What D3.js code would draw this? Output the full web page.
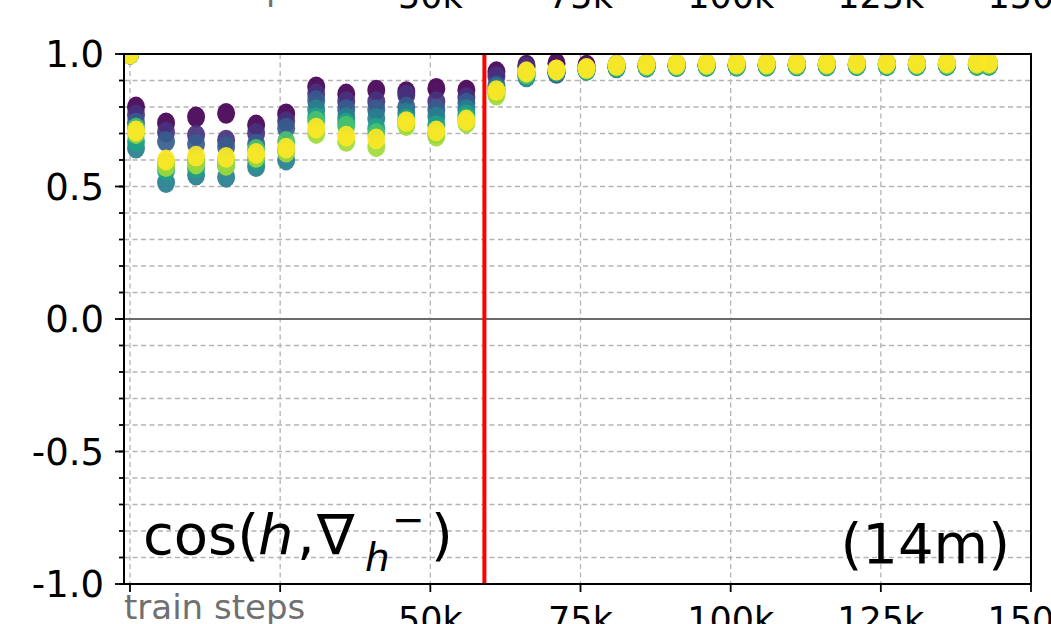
<!DOCTYPE html>
<html>
<head>
<meta charset="utf-8">
<script src="https://cdn.jsdelivr.net/npm/d3@7"></script>
<style>
  html, body { margin: 0; padding: 0; background: #fff; }
  svg { display: block; }
  text { font-family: "DejaVu Sans", sans-serif; }
</style>
</head>
<body>
<svg id="chart" width="1051" height="624"></svg>
<script>
// training steps (thousands) at which the cosine was logged
const steps = [0, 1, 6, 11, 16, 21, 26, 31, 36, 41, 46, 51, 56, 61, 66, 71, 76, 81, 86, 91, 96, 101, 106, 111, 116, 121, 126, 131, 136, 141, 143];

// one series per layer, coloured along viridis (first layer dark, last layer yellow)
const layer0 = [1.0, 0.80, 0.74, 0.763, 0.776, 0.732, 0.774, 0.876, 0.849, 0.864, 0.858, 0.87, 0.864, 0.933, 0.958, 0.965, 0.958, 0.958, 0.96, 0.96, 0.961, 0.962, 0.962, 0.963, 0.963, 0.963, 0.964, 0.964, 0.964, 0.965, 0.965];
const layer1 = [1.0, 0.77, 0.705, 0.694, 0.675, 0.70, 0.745, 0.849, 0.82, 0.82, 0.845, 0.82, 0.835, 0.915, 0.95, 0.927, 0.945, 0.952, 0.955, 0.956, 0.957, 0.958, 0.958, 0.959, 0.959, 0.96, 0.96, 0.96, 0.961, 0.961, 0.962];
const layer2 = [1.0, 0.74, 0.67, 0.66, 0.65, 0.66, 0.72, 0.824, 0.79, 0.79, 0.80, 0.79, 0.815, 0.88, 0.93, 0.93, 0.94, 0.95, 0.953, 0.954, 0.955, 0.955, 0.956, 0.956, 0.957, 0.957, 0.957, 0.958, 0.958, 0.958, 0.959];
const layer3 = [1.0, 0.645, 0.515, 0.543, 0.535, 0.575, 0.60, 0.79, 0.76, 0.757, 0.777, 0.763, 0.79, 0.87, 0.914, 0.93, 0.938, 0.948, 0.95, 0.952, 0.953, 0.954, 0.954, 0.955, 0.955, 0.956, 0.956, 0.956, 0.957, 0.957, 0.957];
const layer4 = [1.0, 0.67, 0.56, 0.57, 0.58, 0.60, 0.64, 0.76, 0.74, 0.72, 0.755, 0.73, 0.77, 0.86, 0.92, 0.935, 0.94, 0.95, 0.952, 0.953, 0.954, 0.955, 0.955, 0.956, 0.956, 0.957, 0.957, 0.957, 0.958, 0.958, 0.958];
const layer5 = [1.0, 0.72, 0.59, 0.60, 0.60, 0.64, 0.67, 0.747, 0.728, 0.70, 0.74, 0.70, 0.755, 0.855, 0.925, 0.938, 0.942, 0.953, 0.955, 0.956, 0.957, 0.958, 0.958, 0.959, 0.959, 0.96, 0.96, 0.96, 0.961, 0.961, 0.961];
const layer6 = [1.0, 0.70, 0.575, 0.585, 0.58, 0.61, 0.63, 0.70, 0.67, 0.65, 0.73, 0.69, 0.74, 0.845, 0.93, 0.94, 0.945, 0.956, 0.958, 0.959, 0.96, 0.961, 0.961, 0.962, 0.962, 0.963, 0.963, 0.963, 0.964, 0.964, 0.964];
const layer7 = [1.0, 0.71, 0.60, 0.615, 0.61, 0.625, 0.645, 0.72, 0.69, 0.68, 0.745, 0.71, 0.75, 0.862, 0.933, 0.94, 0.946, 0.958, 0.961, 0.962, 0.963, 0.964, 0.964, 0.965, 0.965, 0.966, 0.966, 0.966, 0.967, 0.967, 0.967];
const layers = [layer0, layer1, layer2, layer3, layer4, layer5, layer6, layer7];

// step (thousands) where the schedule switches
const switchStep = 59;

const xTicks = [0, 25, 50, 75, 100, 125, 150];
const xTickLabels = ["", "", "50k", "75k", "100k", "125k", "150k"];
const yMajor = [-1, -0.5, 0, 0.5, 1];
const yMajorLabels = ["-1.0", "-0.5", "0.0", "0.5", "1.0"];
const yMinor = d3.range(-10, 11).map(d => d / 10);

const svg = d3.select("#chart");
const L = 124, R = 1031, T = 54, B = 584;

const x = d3.scaleLinear().domain([-1, 150]).range([L, R]);
const y = d3.scaleLinear().domain([-1, 1]).range([B, T]);
const color = i => d3.interpolateViridis(i / (layers.length - 1));

svg.append("defs").append("clipPath").attr("id", "plot-clip")
  .append("rect").attr("x", L).attr("y", T).attr("width", R - L).attr("height", B - T);

// dashed grid: every 0.1 on y, every 25k on x
const grid = svg.append("g").attr("stroke", "#b4b4b4").attr("stroke-width", 1.3)
  .attr("stroke-dasharray", "5,3.5");
grid.selectAll("line.h").data(yMinor.filter(d => d !== 0 && d !== 1 && d !== -1)).join("line")
  .attr("x1", L).attr("x2", R).attr("y1", d => y(d)).attr("y2", d => y(d));
grid.selectAll("line.v").data(xTicks.slice(0, -1)).join("line")
  .attr("y1", T).attr("y2", B).attr("x1", d => x(d)).attr("x2", d => x(d));

// zero reference
svg.append("line").attr("x1", L).attr("x2", R).attr("y1", y(0)).attr("y2", y(0))
  .attr("stroke", "#6a6a6a").attr("stroke-width", 2);

// scatter, one layer after another
const dots = svg.append("g").attr("clip-path", "url(#plot-clip)");
layers.forEach((vals, i) => {
  dots.append("g").selectAll("ellipse").data(vals).join("ellipse")
    .attr("cx", (d, j) => x(steps[j]))
    .attr("cy", d => y(d))
    .attr("rx", 9)
    .attr("ry", 10.4)
    .attr("fill", color(i))
    .attr("fill-opacity", 0.92);
});

// schedule switch marker
svg.append("line").attr("x1", x(switchStep)).attr("x2", x(switchStep))
  .attr("y1", T).attr("y2", B).attr("stroke", "#ff0000").attr("stroke-width", 4);

// frame
svg.append("rect").attr("x", L).attr("y", T).attr("width", R - L).attr("height", B - T)
  .attr("fill", "none").attr("stroke", "#000").attr("stroke-width", 2);

// y ticks
const yAxis = svg.append("g").attr("stroke", "#000").attr("stroke-width", 1.8);
yAxis.selectAll("line.minor").data(yMinor).join("line")
  .attr("x1", L - 5).attr("x2", L).attr("y1", d => y(d)).attr("y2", d => y(d));
yAxis.selectAll("line.major").data(yMajor).join("line")
  .attr("x1", L - 9).attr("x2", L).attr("y1", d => y(d)).attr("y2", d => y(d));
svg.append("g").selectAll("text").data(yMajor).join("text")
  .attr("x", 104).attr("y", d => y(d)).attr("dy", "0.36em")
  .attr("text-anchor", "end").attr("font-size", 37).attr("fill", "#000")
  .text((d, i) => yMajorLabels[i]);

// x ticks
svg.append("g").attr("stroke", "#000").attr("stroke-width", 1.8)
  .selectAll("line").data(xTicks).join("line")
  .attr("x1", d => x(d)).attr("x2", d => x(d)).attr("y1", B).attr("y2", B + 8);
svg.append("g").selectAll("text").data(xTicks).join("text")
  .attr("x", d => x(d)).attr("y", 632)
  .attr("text-anchor", "middle").attr("font-size", 35).attr("fill", "#000")
  .text((d, i) => xTickLabels[i]);
svg.append("text").attr("x", 124).attr("y", 619).attr("font-size", 34)
  .attr("fill", "#707070").text("train steps");

// the same step labels belonging to the panel above
svg.append("g").selectAll("text").data(xTicks).join("text")
  .attr("x", d => x(d)).attr("y", 8)
  .attr("text-anchor", "middle").attr("font-size", 35).attr("fill", "#000")
  .text((d, i) => xTickLabels[i]);
svg.append("text").attr("x", 124).attr("y", 0).attr("font-size", 34)
  .attr("fill", "#707070").text("train steps");

// panel annotations
const ann = svg.append("g").attr("font-size", 56).attr("fill", "#000");
ann.append("text").attr("x", 143).attr("y", 554).text("cos(");
ann.append("text").attr("x", 258).attr("y", 554).attr("font-style", "italic").text("h");
ann.append("text").attr("x", 297).attr("y", 554).text(",");
ann.append("text").attr("x", 317).attr("y", 554).text("\u2207");
ann.append("text").attr("x", 365).attr("y", 571).attr("font-size", 39).attr("font-style", "italic").text("h");
ann.append("text").attr("x", 392).attr("y", 533).attr("font-size", 39).text("\u2212");
ann.append("text").attr("x", 431).attr("y", 554).text(")");
ann.append("text").attr("x", 1010).attr("y", 563).attr("text-anchor", "end").text("(14m)");
</script>
</body>
</html>
